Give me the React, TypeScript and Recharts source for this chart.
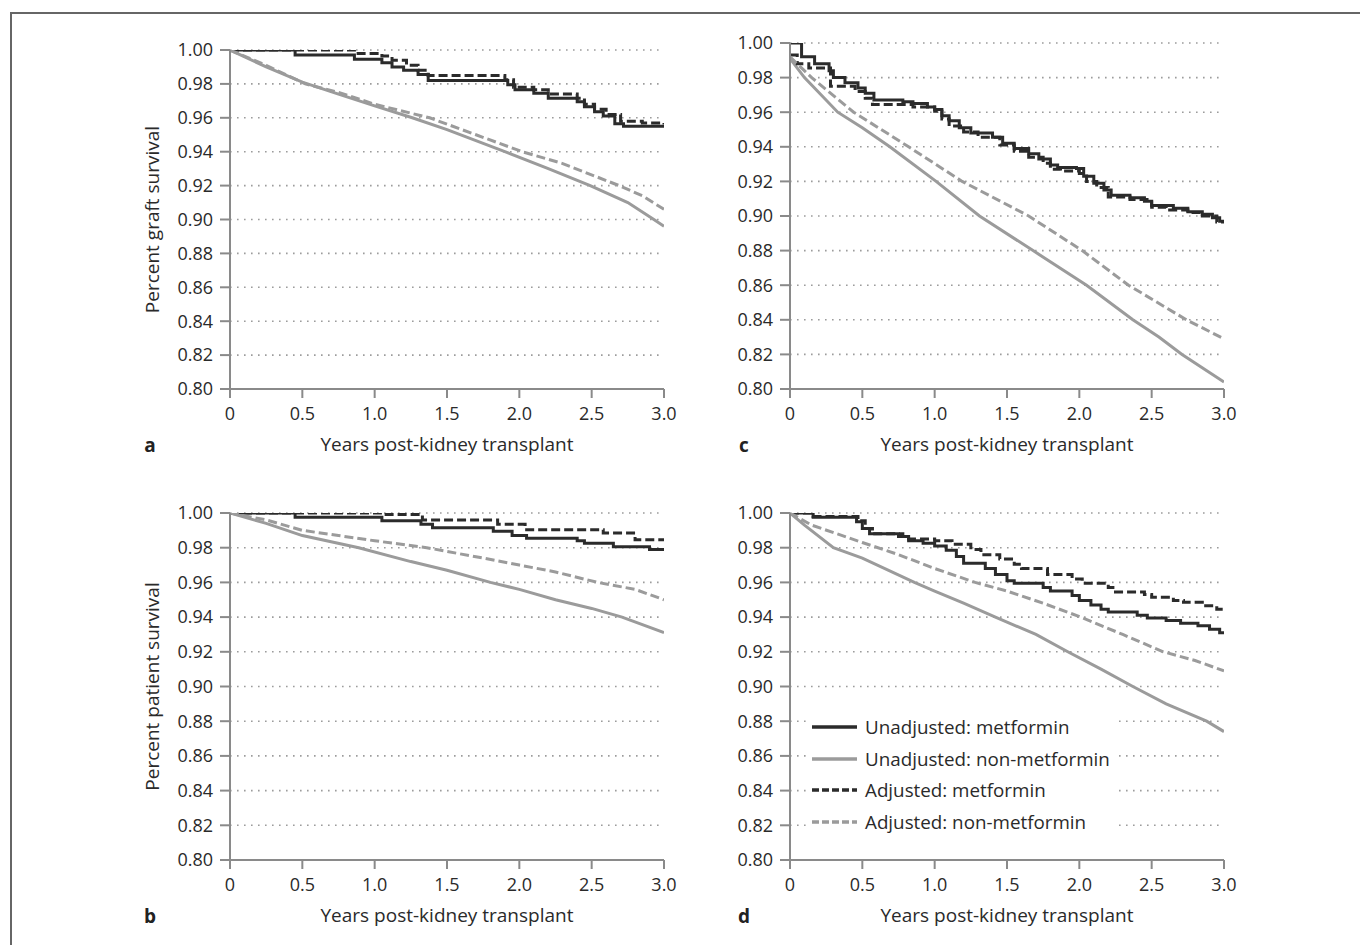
import React from 'react';
import { LineChart, Line, XAxis, YAxis, CartesianGrid, Legend, Label } from 'recharts';

type P = [number, number];

// ---------- axes / labels ----------
const xTicks = [0, 0.5, 1, 1.5, 2, 2.5, 3];
const xTickLabels = ['0', '0.5', '1.0', '1.5', '2.0', '2.5', '3.0'];
const yTicks = [0.8, 0.82, 0.84, 0.86, 0.88, 0.9, 0.92, 0.94, 0.96, 0.98, 1.0];
const xAxisTitle = 'Years post-kidney transplant';
const seriesNames = [
  'Unadjusted: metformin',
  'Unadjusted: non-metformin',
  'Adjusted: metformin',
  'Adjusted: non-metformin',
];

// ---------- panel a: graft survival ----------
const aUnadjMet: P[] = [[0,1],[0.45,0.997],[0.86,0.9945],[1.05,0.9925],[1.12,0.99],[1.2,0.988],[1.3,0.9855],[1.37,0.982],[1.92,0.9795],[1.97,0.9765],[2.1,0.9745],[2.2,0.9715],[2.4,0.9695],[2.45,0.9665],[2.52,0.9635],[2.58,0.961],[2.66,0.9565],[2.72,0.955],[3,0.955]];
const aUnadjNon: P[] = [[0,1],[0.25,0.99],[0.5,0.981],[0.75,0.974],[1.0,0.967],[1.26,0.96],[1.5,0.953],[1.9,0.94],[2.2,0.93],[2.49,0.92],[2.75,0.91],[2.93,0.9],[3,0.896]];
const aAdjMet: P[] = [[0,1],[0.86,0.998],[1.05,0.9965],[1.12,0.994],[1.22,0.991],[1.3,0.988],[1.37,0.985],[1.9,0.9825],[1.96,0.978],[2.1,0.9765],[2.2,0.974],[2.4,0.9715],[2.45,0.968],[2.52,0.965],[2.6,0.962],[2.7,0.958],[2.85,0.957],[3,0.956]];
const aAdjNon: P[] = [[0,1],[0.25,0.991],[0.52,0.98],[0.75,0.975],[1.0,0.968],[1.38,0.96],[1.7,0.95],[2.02,0.94],[2.3,0.933],[2.69,0.92],[2.85,0.914],[3,0.906]];

// ---------- panel b: patient survival ----------
const bUnadjMet: P[] = [[0,1],[0.45,0.9975],[1.05,0.9955],[1.32,0.9935],[1.4,0.9915],[1.82,0.9895],[1.95,0.987],[2.05,0.9855],[2.4,0.984],[2.45,0.9825],[2.65,0.9805],[2.9,0.979],[3,0.979]];
const bUnadjNon: P[] = [[0,1],[0.25,0.994],[0.5,0.987],[0.89,0.98],[1.25,0.972],[1.5,0.967],[1.8,0.96],[2.0,0.956],[2.25,0.95],[2.5,0.945],[2.71,0.94],[3,0.931]];
const bAdjMet: P[] = [[0,1],[1.05,0.9992],[1.33,0.996],[1.85,0.9935],[2.04,0.9903],[2.58,0.9885],[2.8,0.9846],[3,0.9846]];
const bAdjNon: P[] = [[0,1],[0.25,0.996],[0.5,0.99],[0.75,0.987],[1.0,0.984],[1.36,0.98],[1.75,0.974],[2.0,0.97],[2.25,0.966],[2.54,0.96],[2.8,0.956],[3,0.95]];

// ---------- panel c ----------
const cUnadjMet: P[] = [[0,1],[0.08,0.992],[0.17,0.988],[0.27,0.984],[0.3,0.98],[0.38,0.977],[0.47,0.974],[0.52,0.971],[0.58,0.967],[0.78,0.966],[0.85,0.965],[0.95,0.963],[1.0,0.9615],[1.05,0.958],[1.1,0.955],[1.17,0.951],[1.25,0.948],[1.4,0.9455],[1.47,0.942],[1.55,0.939],[1.65,0.936],[1.72,0.933],[1.8,0.9295],[1.85,0.928],[1.98,0.9275],[2.03,0.923],[2.1,0.919],[2.17,0.915],[2.22,0.912],[2.35,0.9105],[2.45,0.9085],[2.5,0.906],[2.65,0.9045],[2.75,0.9025],[2.85,0.901],[2.92,0.899],[2.97,0.897],[3,0.897]];
const cUnadjNon: P[] = [[0,0.991],[0.1,0.98],[0.33,0.96],[0.5,0.951],[0.69,0.94],[1.01,0.92],[1.31,0.9],[1.68,0.88],[2.05,0.86],[2.37,0.84],[2.55,0.83],[2.71,0.82],[3,0.804]];
const cAdjMet: P[] = [[0,0.993],[0.05,0.988],[0.13,0.9855],[0.28,0.975],[0.45,0.972],[0.52,0.968],[0.57,0.9645],[0.85,0.963],[1.0,0.9605],[1.05,0.956],[1.1,0.952],[1.2,0.9485],[1.3,0.9455],[1.45,0.941],[1.55,0.9375],[1.65,0.934],[1.75,0.9305],[1.8,0.927],[1.87,0.926],[2.0,0.9245],[2.05,0.92],[2.12,0.9165],[2.2,0.911],[2.35,0.9095],[2.5,0.905],[2.6,0.9035],[2.75,0.902],[2.85,0.9],[2.95,0.8965],[3,0.8965]];
const cAdjNon: P[] = [[0,0.992],[0.15,0.98],[0.44,0.96],[0.82,0.94],[1.19,0.92],[1.65,0.9],[2.02,0.88],[2.34,0.86],[2.74,0.84],[3,0.829]];

// ---------- panel d ----------
const dUnadjMet: P[] = [[0,1],[0.16,0.9975],[0.46,0.995],[0.5,0.991],[0.55,0.988],[0.75,0.9865],[0.82,0.984],[0.92,0.9825],[1.0,0.981],[1.08,0.9785],[1.15,0.975],[1.2,0.971],[1.35,0.968],[1.42,0.9645],[1.5,0.961],[1.55,0.9595],[1.75,0.957],[1.8,0.955],[1.95,0.9525],[2.0,0.9495],[2.08,0.947],[2.15,0.9445],[2.2,0.943],[2.4,0.941],[2.47,0.9395],[2.6,0.938],[2.7,0.9365],[2.82,0.935],[2.9,0.933],[2.97,0.931],[3,0.931]];
const dUnadjNon: P[] = [[0,1],[0.1,0.993],[0.3,0.98],[0.5,0.974],[0.86,0.96],[1.0,0.955],[1.2,0.948],[1.42,0.94],[1.7,0.93],[1.92,0.92],[2.15,0.91],[2.37,0.9],[2.6,0.89],[2.88,0.88],[3,0.874]];
const dAdjMet: P[] = [[0,1],[0.16,0.998],[0.47,0.9955],[0.52,0.991],[0.57,0.988],[0.78,0.9865],[0.82,0.985],[1.0,0.984],[1.12,0.982],[1.25,0.979],[1.32,0.976],[1.45,0.9735],[1.55,0.9705],[1.6,0.968],[1.78,0.9645],[1.95,0.962],[2.02,0.9595],[2.2,0.957],[2.25,0.9545],[2.45,0.953],[2.5,0.9515],[2.65,0.9495],[2.72,0.9485],[2.85,0.9465],[2.95,0.9445],[3,0.9445]];
const dAdjNon: P[] = [[0,1],[0.15,0.993],[0.5,0.983],[0.75,0.976],[1.0,0.968],[1.28,0.96],[1.5,0.955],[1.75,0.948],[2.01,0.94],[2.3,0.93],[2.58,0.92],[2.8,0.915],[3,0.909]];

// ---------- styling ----------
const FONT = "'Open Sans', 'Noto Sans', sans-serif";
const DARK = '#2b2b2b';
const GRAY = '#9b9b9b';
const AXIS = '#8a8a8a';
const TEXT = '#2a2a2a';

const STYLES = [
  { color: DARK, dash: undefined as string | undefined, step: true },
  { color: GRAY, dash: undefined as string | undefined, step: false },
  { color: DARK, dash: '9 4', step: true },
  { color: GRAY, dash: '9 4', step: false },
];

type Box = { x0: number; x1: number; y0: number; y1: number };

const YW = 156;
const MT = 22;
const MR = 24;
const XH = 70;

const LEGEND_BOX = { x: 810, y: 708, w: 308, h: 133 };

function LegendContent() {
  return (
    <div style={{ background: '#fff', width: LEGEND_BOX.w, height: LEGEND_BOX.h, paddingTop: 3, boxSizing: 'border-box' }}>
      {seriesNames.map((name, i) => (
        <div key={name} style={{ display: 'flex', alignItems: 'center', height: 31.7 }}>
          <svg width={50} height={10} style={{ display: 'block' }}>
            <line x1={2} y1={5} x2={47} y2={5} stroke={STYLES[i].color} strokeWidth={3.5}
              strokeDasharray={STYLES[i].dash ? '7 3' : undefined} />
          </svg>
          <span style={{ marginLeft: 5, fontSize: 18.8, fontFamily: FONT, color: TEXT, whiteSpace: 'nowrap', lineHeight: '22px' }}>{name}</span>
        </div>
      ))}
    </div>
  );
}

function Panel({ box, series, yTitle, letter, letterX, showLegend }: { box: Box; series: P[][]; yTitle?: string; letter: string; letterX: number; showLegend?: boolean }) {
  const plotW = box.x1 - box.x0;
  const plotH = box.y1 - box.y0;
  const width = YW + plotW + MR;
  const height = MT + plotH + XH;
  const left = box.x0 - YW;
  const top = box.y0 - MT;
  return (
    <>
      <div style={{ position: 'absolute', left, top }}>
        <LineChart width={width} height={height} margin={{ top: MT, right: MR, bottom: 0, left: 0 }}>
          <CartesianGrid vertical={false} stroke="#9c9c9c" strokeWidth={1.6} strokeDasharray="1.6 5.4" />
          <XAxis
            type="number"
            dataKey="t"
            domain={[0, 3]}
            ticks={xTicks}
            interval={0}
            allowDataOverflow
            tickFormatter={(v: number) => xTickLabels[xTicks.indexOf(v)]}
            height={XH}
            axisLine={{ stroke: AXIS, strokeWidth: 2 }}
            tickLine={{ stroke: AXIS, strokeWidth: 2 }}
            tickSize={9}
            tickMargin={9}
            tick={{ fill: TEXT, fontSize: 18, fontFamily: FONT }}
          >
            <Label value={xAxisTitle} position="insideBottom" offset={8} fill={TEXT} fontSize={19} fontFamily={FONT} />
          </XAxis>
          <YAxis
            type="number"
            domain={[0.8, 1]}
            ticks={yTicks}
            interval={0}
            allowDataOverflow
            tickFormatter={(v: number) => v.toFixed(2)}
            width={YW}
            axisLine={{ stroke: AXIS, strokeWidth: 2 }}
            tickLine={{ stroke: AXIS, strokeWidth: 2 }}
            tickSize={10}
            tickMargin={7}
            tick={{ fill: TEXT, fontSize: 18, fontFamily: FONT }}
          >
            {yTitle ? <Label value={yTitle} angle={-90} position="center" fill={TEXT} fontSize={19} fontFamily={FONT} /> : null}
          </YAxis>
          {series.map((s, i) => (
            <Line
              key={seriesNames[i]}
              name={seriesNames[i]}
              data={s.map(([t, v]) => ({ t, v }))}
              dataKey="v"
              type={STYLES[i].step ? 'stepAfter' : 'linear'}
              stroke={STYLES[i].color}
              strokeWidth={3}
              strokeDasharray={STYLES[i].dash}
              dot={false}
              activeDot={false}
              isAnimationActive={false}
            />
          ))}
          {showLegend ? (
            <Legend
              layout="vertical"
              align="center"
              verticalAlign="middle"
              content={() => <LegendContent />}
              wrapperStyle={{ left: LEGEND_BOX.x - left, top: LEGEND_BOX.y - top, width: LEGEND_BOX.w, height: LEGEND_BOX.h }}
            />
          ) : null}
        </LineChart>
      </div>
      <div style={{ position: 'absolute', left: letterX - 12, top: box.y1 + 56 - 14, width: 24, textAlign: 'center', fontFamily: FONT, fontWeight: 700, fontSize: 19, lineHeight: '28px', color: '#222' }}>
        {letter}
      </div>
    </>
  );
}

export default function App() {
  return (
    <div style={{ position: 'absolute', left: 0, top: 0, width: 1360, height: 945, background: '#fff', overflow: 'hidden' }}>
      <div style={{ position: 'absolute', left: 10, top: 12, right: 0, bottom: 0, borderLeft: '2px solid #666', borderTop: '2px solid #666' }} />
      <Panel box={{ x0: 230, x1: 664, y0: 50, y1: 389 }} series={[aUnadjMet, aUnadjNon, aAdjMet, aAdjNon]} yTitle="Percent graft survival" letter="a" letterX={150} />
      <Panel box={{ x0: 790, x1: 1224, y0: 43, y1: 389 }} series={[cUnadjMet, cUnadjNon, cAdjMet, cAdjNon]} letter="c" letterX={744} />
      <Panel box={{ x0: 230, x1: 664, y0: 513, y1: 860 }} series={[bUnadjMet, bUnadjNon, bAdjMet, bAdjNon]} yTitle="Percent patient survival" letter="b" letterX={150} />
      <Panel box={{ x0: 790, x1: 1224, y0: 513, y1: 860 }} series={[dUnadjMet, dUnadjNon, dAdjMet, dAdjNon]} letter="d" letterX={744} showLegend />
    </div>
  );
}
